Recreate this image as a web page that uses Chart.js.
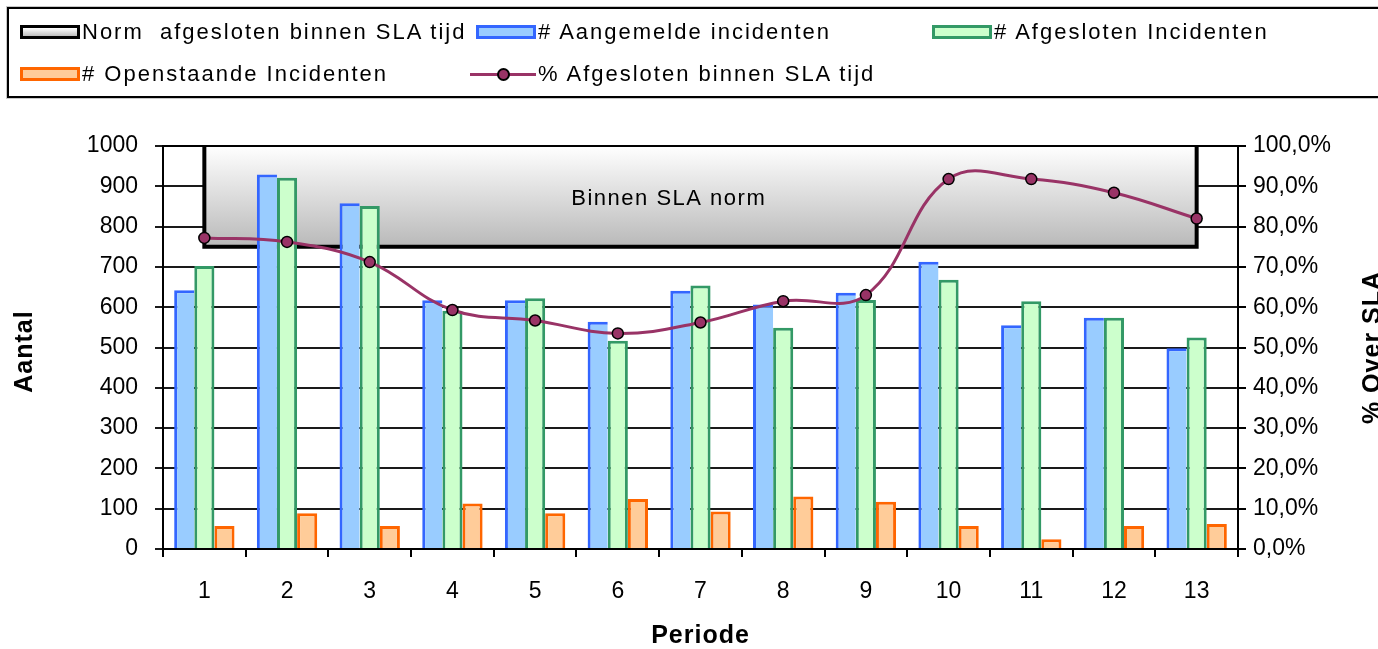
<!DOCTYPE html>
<html>
<head>
<meta charset="utf-8">
<title>Incidenten per periode</title>
<script src="https://cdn.jsdelivr.net/npm/chart.js@4.4.1/dist/chart.umd.min.js"></script>
<style>
  html, body { margin: 0; padding: 0; background: #fff; width: 1378px; height: 649px; overflow: hidden; }
  #wrap { position: relative; width: 1378px; height: 649px; }
  #grafiek { position: absolute; left: 0; top: 0; }
  #legendaKader {
    position: absolute; left: 7px; top: 7px; width: 1420px; height: 87px;
    border: 2px solid #000; box-shadow: 0 0 0 1px #c8c8c8;
  }
  .item {
    position: absolute; height: 30px; display: flex; align-items: center; white-space: pre;
    font-family: "Liberation Sans", Arial, sans-serif; font-size: 22px; letter-spacing: 2px; color: #000;
  }
  .staal { width: 66px; display: flex; justify-content: flex-end; align-items: center; margin-right: 2px; }
  .vak { width: 54px; height: 8px; border: 3px solid; }
  .lijn { position: relative; width: 68px; height: 3px; }
  .lijn i { position: absolute; left: 29px; top: -5px; width: 9px; height: 9px; border-radius: 50%; border: 2px solid #000; box-sizing: content-box; margin-left: -2px; }
</style>
</head>
<body>
<div id="wrap">
  <canvas id="grafiek" width="1378" height="649"></canvas>
  <div id="legendaKader"></div>
  <div id="legenda"></div>
</div>
<script>
// Periodes en meetwaarden
const periodes = ['1', '2', '3', '4', '5', '6', '7', '8', '9', '10', '11', '12', '13'];
const aangemeld = [642, 929, 858, 617, 617, 564, 641, 607, 636, 713, 555, 574, 498];
const afgesloten = [702, 921, 851, 591, 622, 517, 654, 549, 618, 668, 615, 574, 525];
const openstaand = [57, 89, 57, 113, 89, 124, 93, 130, 117, 57, 24, 57, 62];
const pctBinnenSla = [77.2, 76.2, 71.2, 59.3, 56.7, 53.5, 56.2, 61.5, 63.0, 91.8, 91.8, 88.4, 82.0];

// SLA norm: band tussen 75% en 100%
const normOnder = 75;
const normBoven = 100;

// As-indeling
const aantalTicks = { min: 0, max: 1000, stap: 100 };
const pctTicks = { min: 0, max: 100, stap: 10 };

const labels = {
    norm: 'Norm  afgesloten binnen SLA tijd',
    aangemeld: '# Aangemelde incidenten',
    afgesloten: '# Afgesloten Incidenten',
    openstaand: '# Openstaande Incidenten',
    pct: '% Afgesloten binnen SLA tijd',
    normTekst: 'Binnen SLA norm',
    xTitel: 'Periode',
    yTitel: 'Aantal',
    y2Titel: '% Over SLA'
};

const kleuren = {
    blauwRand: '#3366ff', blauw: '#99ccff',
    groenRand: '#339966', groen: '#ccffcc',
    oranjeRand: '#ff6600', oranje: '#ffcc99',
    paars: '#993366'
};

const lettertype = '"Liberation Sans", Arial, sans-serif';

// de normband loopt van de eerste tot de laatste periode
const eerste = periodes[0];
const laatste = periodes[periodes.length - 1];
const normVlak = [
    { x: eerste, y: normBoven },
    { x: eerste, y: normOnder },
    { x: laatste, y: normOnder },
    { x: laatste, y: normBoven }
];

const bandVerloop = (context) => {
    const chart = context.chart;
    const { ctx, chartArea, scales } = chart;
    if (!chartArea || !scales.yPct) {
        return '#dddddd';
    }
    const boven = scales.yPct.getPixelForValue(normBoven);
    const onder = scales.yPct.getPixelForValue(normOnder);
    const g = ctx.createLinearGradient(0, boven, 0, onder);
    g.addColorStop(0, '#ffffff');
    g.addColorStop(1, '#b9b9b9');
    return g;
};

// teksten in en rond het plotvlak
const tekstPlugin = {
    id: 'tekstPlugin',
    afterDatasetsDraw(chart) {
        const { ctx, chartArea } = chart;
        ctx.save();
        ctx.strokeStyle = '#000';
        ctx.lineWidth = 2;
        ctx.beginPath();
        ctx.moveTo(chartArea.left, chartArea.top);
        ctx.lineTo(chartArea.right, chartArea.top);
        ctx.stroke();
        ctx.restore();
    },
    afterDraw(chart) {
        const { ctx, chartArea, scales } = chart;
        ctx.save();
        ctx.fillStyle = '#000';
        ctx.textAlign = 'center';
        ctx.textBaseline = 'middle';

        // label van de normband, iets links van het midden
        ctx.font = '22px ' + lettertype;
        ctx.letterSpacing = '1.5px';
        const links = scales.x.getPixelForValue(0);
        const rechts = scales.x.getPixelForValue(periodes.length - 1);
        const bx = links + (rechts - links) * 0.468;
        const by = scales.yPct.getPixelForValue((normOnder + normBoven) / 2);
        ctx.fillText(labels.normTekst, bx, by + 3);

        ctx.font = 'bold 25px ' + lettertype;
        ctx.letterSpacing = '1px';
        const midY = (chartArea.top + chartArea.bottom) / 2;
        ctx.fillText(labels.xTitel, (chartArea.left + chartArea.right) / 2, chartArea.bottom + 87);

        ctx.save();
        ctx.translate(25, midY + 4);
        ctx.rotate(-Math.PI / 2);
        ctx.fillText(labels.yTitel, 0, 0);
        ctx.restore();

        ctx.save();
        ctx.translate(1373, midY);
        ctx.rotate(-Math.PI / 2);
        ctx.fillText(labels.y2Titel, 0, 0);
        ctx.restore();

        ctx.letterSpacing = '0px';
        ctx.restore();
    }
};

const tickFont = { family: lettertype, size: 23 };

const chart = new Chart(document.getElementById('grafiek'), {
    data: {
        labels: periodes,
        datasets: [
            {
                type: 'line',
                label: labels.norm,
                yAxisID: 'yPct',
                data: normVlak,
                borderColor: '#000',
                borderWidth: 4,
                tension: 0,
                pointRadius: 0,
                fill: 'end',
                backgroundColor: bandVerloop,
                order: 3
            },
            {
                type: 'bar',
                label: labels.aangemeld,
                yAxisID: 'y',
                data: aangemeld,
                backgroundColor: kleuren.blauw,
                borderColor: kleuren.blauwRand,
                borderWidth: { top: 3, left: 3, right: 0, bottom: 0 },
                borderSkipped: false,
                order: 2
            },
            {
                type: 'bar',
                label: labels.afgesloten,
                yAxisID: 'y',
                data: afgesloten,
                backgroundColor: kleuren.groen,
                borderColor: kleuren.groenRand,
                borderWidth: { top: 3, left: 3, right: 3, bottom: 0 },
                borderSkipped: false,
                order: 2
            },
            {
                type: 'bar',
                label: labels.openstaand,
                yAxisID: 'y',
                data: openstaand,
                backgroundColor: kleuren.oranje,
                borderColor: kleuren.oranjeRand,
                borderWidth: { top: 3, left: 3, right: 3, bottom: 0 },
                borderSkipped: false,
                order: 2
            },
            {
                type: 'line',
                label: labels.pct,
                yAxisID: 'yPct',
                data: pctBinnenSla,
                borderColor: kleuren.paars,
                borderWidth: 3,
                tension: 0.4,
                fill: false,
                pointRadius: 5.5,
                pointBackgroundColor: kleuren.paars,
                pointBorderColor: '#000',
                pointBorderWidth: 1.5,
                order: 1
            }
        ]
    },
    options: {
        responsive: false,
        animation: false,
        devicePixelRatio: 1,
        layout: { padding: { top: 146, left: 0, right: 0, bottom: 0 } },
        datasets: {
            bar: { categoryPercentage: 0.73, barPercentage: 1 }
        },
        plugins: {
            legend: { display: false },
            tooltip: { enabled: false }
        },
        scales: {
            x: {
                type: 'category',
                offset: true,
                grid: { offset: true, drawOnChartArea: false, color: '#000', lineWidth: 2, tickLength: 8 },
                border: { color: '#000', width: 2 },
                ticks: { color: '#000', font: tickFont, padding: 21, maxRotation: 0 },
                afterFit: (s) => { s.height = 100; }
            },
            y: {
                position: 'left',
                min: aantalTicks.min,
                max: aantalTicks.max,
                ticks: {
                    stepSize: aantalTicks.stap,
                    color: '#000',
                    font: tickFont,
                    padding: 17,
                    callback: (v) => String(v)
                },
                grid: { color: '#1a1a1a', lineWidth: 2, tickLength: 8 },
                border: { color: '#000', width: 2 },
                afterFit: (s) => { s.width = 163; }
            },
            yPct: {
                position: 'right',
                min: pctTicks.min,
                max: pctTicks.max,
                ticks: {
                    stepSize: pctTicks.stap,
                    color: '#000',
                    font: tickFont,
                    padding: 7,
                    callback: (v) => v.toFixed(1).replace('.', ',') + '%'
                },
                grid: { drawOnChartArea: false, color: '#000', lineWidth: 2, tickLength: 8 },
                border: { color: '#000', width: 2 },
                afterFit: (s) => { s.width = 140; }
            }
        }
    },
    plugins: [tekstPlugin]
});

// legenda als html, twee rijen met drie kolommen
const kolomLinks = [14, 470, 926];
const rijMidden = [32, 74];
const legenda = [
    { tekst: labels.norm, soort: 'vak', rand: '#000', vulling: 'linear-gradient(#ffffff, #bdbdbd)', kol: 0, rij: 0 },
    { tekst: labels.aangemeld, soort: 'vak', rand: kleuren.blauwRand, vulling: kleuren.blauw, kol: 1, rij: 0 },
    { tekst: labels.afgesloten, soort: 'vak', rand: kleuren.groenRand, vulling: kleuren.groen, kol: 2, rij: 0 },
    { tekst: labels.openstaand, soort: 'vak', rand: kleuren.oranjeRand, vulling: kleuren.oranje, kol: 0, rij: 1 },
    { tekst: labels.pct, soort: 'lijn', rand: kleuren.paars, vulling: kleuren.paars, kol: 1, rij: 1 }
];

const legendaDiv = document.getElementById('legenda');
legenda.forEach((l) => {
    const item = document.createElement('div');
    item.className = 'item';
    item.style.left = kolomLinks[l.kol] + 'px';
    item.style.top = (rijMidden[l.rij] - 15) + 'px';

    const staal = document.createElement('span');
    staal.className = 'staal';
    if (l.soort === 'vak') {
        const vak = document.createElement('span');
        vak.className = 'vak';
        vak.style.borderColor = l.rand;
        vak.style.background = l.vulling;
        staal.appendChild(vak);
    } else {
        const lijn = document.createElement('span');
        lijn.className = 'lijn';
        lijn.style.background = l.rand;
        const punt = document.createElement('i');
        punt.style.background = l.vulling;
        lijn.appendChild(punt);
        staal.appendChild(lijn);
    }
    item.appendChild(staal);

    const tekst = document.createElement('span');
    tekst.textContent = l.tekst;
    item.appendChild(tekst);
    legendaDiv.appendChild(item);
});
</script>
</body>
</html>
